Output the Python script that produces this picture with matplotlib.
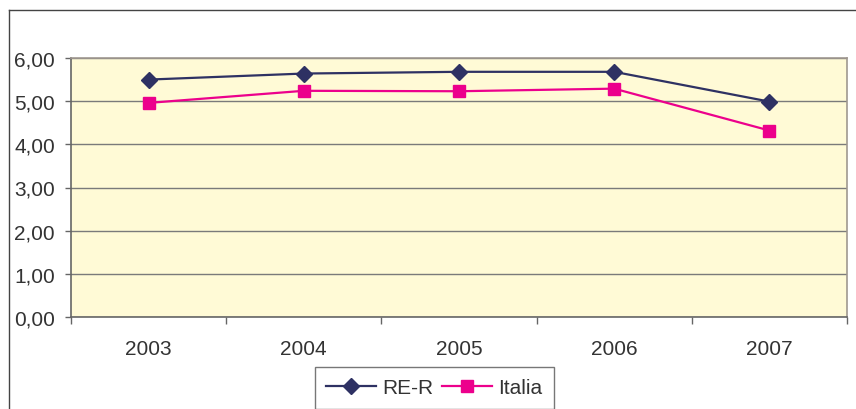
import matplotlib
matplotlib.use("Agg")
import matplotlib.pyplot as plt
from matplotlib.lines import Line2D
from matplotlib.ticker import FuncFormatter, FixedLocator

plt.rcParams['font.family'] = ['Liberation Sans', 'DejaVu Sans']

# data
years = ["2003", "2004", "2005", "2006", "2007"]
rer = [5.50, 5.64, 5.68, 5.68, 4.99]
italia = [4.96, 5.24, 5.23, 5.29, 4.32]

fig = plt.figure(figsize=(8.56, 4.10), dpi=100)
ax = fig.add_axes([71 / 856, 1 - 318 / 410, (847 - 71) / 856, (318 - 59) / 410])
ax.set_facecolor("#FFFAD6")

x = list(range(len(years)))
ax.plot(x, rer, color="#2E3163", lw=1.6, marker="D", markersize=8.5, label="RE-R", zorder=3)
ax.plot(x, italia, color="#EC008C", lw=1.6, marker="s", markersize=8.5, label="Italia", zorder=3)

ax.set_xlim(-0.5, len(years) - 0.5)
ax.set_ylim(0, 6)
ax.set_yticks(range(0, 7))
ax.yaxis.set_major_formatter(FuncFormatter(lambda v, p: f"{v:.2f}".replace(".", ",")))
ax.grid(axis="y", color="#7A7A7A", lw=1)
ax.set_axisbelow(True)

ax.set_xticks(x)
ax.set_xticklabels(years)
ax.xaxis.set_minor_locator(FixedLocator([i - 0.5 for i in range(len(years) + 1)]))
ax.tick_params(axis="x", which="major", length=0, pad=16, labelsize=15, labelcolor="#333333")
ax.tick_params(axis="x", which="minor", length=5, color="#666666", width=1)
ax.tick_params(axis="y", length=4.5, pad=7, labelsize=15, labelcolor="#333333", color="#666666", width=1)

for s in ["left", "bottom"]:
    ax.spines[s].set_color("#666666")
    ax.spines[s].set_linewidth(1.2)
for s in ["top", "right"]:
    ax.spines[s].set_color("#A09890")
    ax.spines[s].set_linewidth(1.2)

leg = fig.legend(loc="upper center", bbox_to_anchor=(434.5 / 856, 1 - 368 / 410), ncol=2,
                 fontsize=15, frameon=True, fancybox=False, edgecolor="#555555",
                 handlelength=2.4, handletextpad=0.3, columnspacing=0.4, borderpad=0.55,
                 borderaxespad=0)
leg.get_frame().set_linewidth(1)
for t in leg.get_texts():
    t.set_color("#333333")

# outer chart frame (partly cropped)
fig.add_artist(Line2D([9 / 856, 9 / 856], [0, 1 - 11 / 410], color="#444444", lw=1))
fig.add_artist(Line2D([9 / 856, 1], [1 - 11 / 410, 1 - 11 / 410], color="#444444", lw=1))

fig.savefig("out.png", dpi=100)
